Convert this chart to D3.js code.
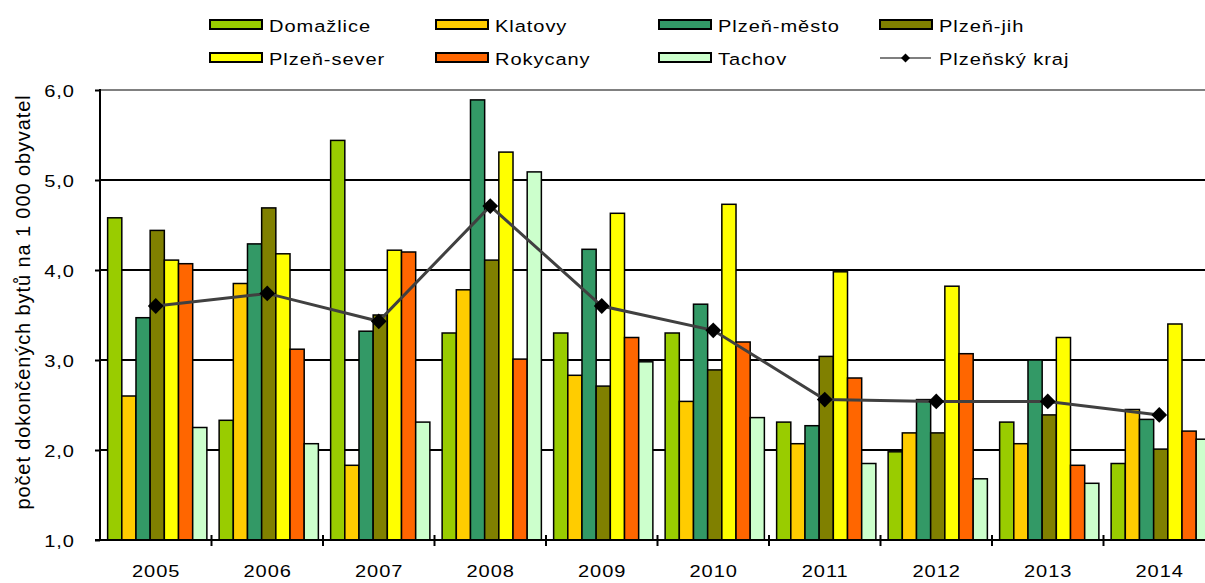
<!DOCTYPE html>
<html>
<head>
<meta charset="utf-8">
<script src="https://cdn.jsdelivr.net/npm/d3@7"></script>
<style>
  body { margin: 0; background: #fff; }
  svg { display: block; font-family: Arial, "Liberation Sans", sans-serif; }
  .lbl { font-size: 17px; letter-spacing: 0.8px; fill: #000; }
</style>
</head>
<body>
<svg id="chart" width="1205" height="583"></svg>
<script>
const years = ['2005','2006','2007','2008','2009','2010','2011','2012','2013','2014'];
const districts = ['Domažlice','Klatovy','Plzeň-město','Plzeň-jih','Plzeň-sever','Rokycany','Tachov'];
const colors = ['#99cc00','#ffcc00','#339966','#808000','#ffff00','#ff6600','#ccffcc'];

const domazlice  = [4.58, 2.33, 5.44, 3.30, 3.30, 3.30, 2.31, 1.98, 2.31, 1.85];
const klatovy    = [2.60, 3.85, 1.83, 3.78, 2.83, 2.54, 2.07, 2.19, 2.07, 2.45];
const plzenMesto = [3.47, 4.29, 3.32, 5.89, 4.23, 3.62, 2.27, 2.56, 3.00, 2.34];
const plzenJih   = [4.44, 4.69, 3.50, 4.11, 2.71, 2.89, 3.04, 2.19, 2.39, 2.01];
const plzenSever = [4.11, 4.18, 4.22, 5.31, 4.63, 4.73, 3.98, 3.82, 3.25, 3.40];
const rokycany   = [4.07, 3.12, 4.20, 3.01, 3.25, 3.20, 2.80, 3.07, 1.83, 2.21];
const tachov     = [2.25, 2.07, 2.31, 5.09, 2.98, 2.36, 1.85, 1.68, 1.63, 2.12];
const kraj       = [3.60, 3.74, 3.43, 4.71, 3.60, 3.33, 2.56, 2.54, 2.54, 2.39];

const yTicks = [1, 2, 3, 4, 5, 6];

const series = [domazlice, klatovy, plzenMesto, plzenJih, plzenSever, rokycany, tachov];

// labels in the original are a bit stretched sideways
const sx = 1.18;
const ls = 0.8;

const svg = d3.select('#chart');
const margin = {left: 100, top: 90, right: 1215, bottom: 540};

const x = d3.scaleBand()
  .domain(years)
  .range([margin.left, margin.right]);

const groupW = x.bandwidth() * 0.89;
const x1 = d3.scaleBand()
  .domain(districts)
  .range([(x.bandwidth() - groupW) / 2 + 1.5, (x.bandwidth() + groupW) / 2 + 1.5]);

const y = d3.scaleLinear()
  .domain([1, 6])
  .range([margin.bottom, margin.top]);

// grid
svg.append('g')
  .selectAll('line')
  .data(yTicks.filter(d => d > 1))
  .join('line')
    .attr('x1', margin.left)
    .attr('x2', margin.right)
    .attr('y1', d => y(d))
    .attr('y2', d => y(d))
    .attr('stroke', d => d === 6 ? '#808080' : '#000')
    .attr('stroke-width', 1.8);

// bars
const groups = svg.append('g')
  .selectAll('g')
  .data(years)
  .join('g')
    .attr('transform', d => 'translate(' + x(d) + ',0)');

groups.selectAll('rect')
  .data((yr, i) => districts.map((name, j) => ({name, j, v: series[j][i]})))
  .join('rect')
    .attr('x', d => x1(d.name))
    .attr('width', x1.bandwidth())
    .attr('y', d => y(d.v))
    .attr('height', d => y(1) - y(d.v))
    .attr('fill', d => colors[d.j])
    .attr('stroke', '#000')
    .attr('stroke-width', 1.5);

// y axis
const yAxis = svg.append('g')
  .attr('transform', 'translate(' + margin.left + ',0)')
  .call(d3.axisLeft(y).tickValues(yTicks).tickFormat('').tickSize(5));
yAxis.select('.domain').remove();
yAxis.selectAll('line').attr('stroke-width', 2);

svg.append('g')
  .attr('transform', 'scale(' + sx + ',1)')
  .selectAll('text')
  .data(yTicks)
  .join('text')
    .attr('class', 'lbl')
    .attr('x', 74 / sx + ls)
    .attr('y', d => y(d) + 7.5)
    .attr('text-anchor', 'end')
    .text(d => d3.format('.1f')(d).replace('.', ','));

svg.append('line')
  .attr('x1', margin.left).attr('x2', margin.left)
  .attr('y1', margin.top - 1).attr('y2', margin.bottom + 1)
  .attr('stroke', '#000').attr('stroke-width', 2);

svg.append('line')
  .attr('x1', margin.left - 5).attr('x2', margin.right)
  .attr('y1', margin.bottom).attr('y2', margin.bottom)
  .attr('stroke', '#000').attr('stroke-width', 2);

// x ticks at category boundaries
svg.append('g')
  .selectAll('line')
  .data(years.slice(1))
  .join('line')
    .attr('x1', d => x(d)).attr('x2', d => x(d))
    .attr('y1', margin.bottom - 5).attr('y2', margin.bottom + 6)
    .attr('stroke', '#000').attr('stroke-width', 2);

svg.append('g')
  .attr('transform', 'scale(' + sx + ',1)')
  .selectAll('text')
  .data(years)
  .join('text')
    .attr('class', 'lbl')
    .attr('x', d => (x(d) + x.bandwidth() / 2) / sx + ls / 2)
    .attr('y', 577)
    .attr('text-anchor', 'middle')
    .text(d => d);

// y title
svg.append('text')
  .attr('transform', 'translate(30,302) rotate(-90)')
  .attr('text-anchor', 'middle')
  .style('font-size', '20px')
  .style('letter-spacing', '0.9px')
  .text('počet dokončených bytů na 1 000 obyvatel');

// kraj line
const line = d3.line()
  .x((d, i) => x(years[i]) + x.bandwidth() / 2)
  .y(d => y(d));

svg.append('path')
  .datum(kraj)
  .attr('d', line)
  .attr('fill', 'none')
  .attr('stroke', '#404040')
  .attr('stroke-width', 3);

svg.append('g')
  .selectAll('path')
  .data(kraj)
  .join('path')
    .attr('d', d3.symbol(d3.symbolSquare, 125))
    .attr('transform', (d, i) => 'translate(' + (x(years[i]) + x.bandwidth() / 2) + ',' + y(d) + ') rotate(45)')
    .attr('fill', '#000');

// legend
const legendItems = [
  {name: 'Domažlice', c: colors[0], col: 0, row: 0},
  {name: 'Klatovy', c: colors[1], col: 1, row: 0},
  {name: 'Plzeň-město', c: colors[2], col: 2, row: 0},
  {name: 'Plzeň-jih', c: colors[3], col: 3, row: 0},
  {name: 'Plzeň-sever', c: colors[4], col: 0, row: 1},
  {name: 'Rokycany', c: colors[5], col: 1, row: 1},
  {name: 'Tachov', c: colors[6], col: 2, row: 1},
  {name: 'Plzeňský kraj', c: null, col: 3, row: 1}
];
const colX = [210, 436, 659, 880];
const rowY = [25, 58];

const leg = svg.append('g')
  .selectAll('g')
  .data(legendItems)
  .join('g')
    .attr('transform', d => 'translate(' + colX[d.col] + ',' + rowY[d.row] + ')');

leg.filter(d => d.c)
  .append('rect')
    .attr('x', 0).attr('y', -5)
    .attr('width', 52).attr('height', 9)
    .attr('fill', d => d.c)
    .attr('stroke', '#000')
    .attr('stroke-width', 2);

const lineLeg = leg.filter(d => !d.c);
lineLeg.append('line')
  .attr('x1', 0).attr('x2', 51)
  .attr('y1', 0).attr('y2', 0)
  .attr('stroke', '#000').attr('stroke-width', 1.2);
lineLeg.append('path')
  .attr('d', d3.symbol(d3.symbolSquare, 40))
  .attr('transform', 'translate(25.5,0) rotate(45)')
  .attr('fill', '#000');

leg.append('text')
  .attr('class', 'lbl')
  .attr('transform', 'scale(' + sx + ',1)')
  .attr('x', 59 / sx)
  .attr('y', 7)
  .text(d => d.name);
</script>
</body>
</html>
